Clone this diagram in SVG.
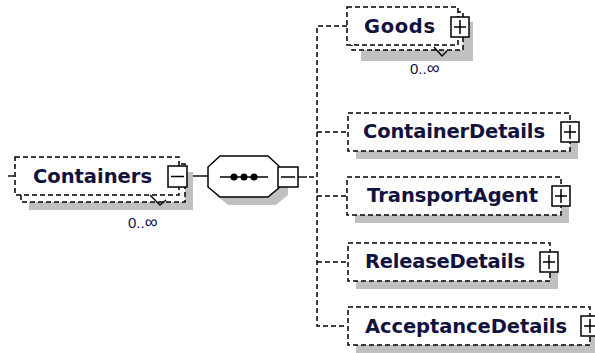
<svg xmlns="http://www.w3.org/2000/svg" width="595" height="353" viewBox="0 0 595 353">
<style>
.shadow{fill:#c0c0c0;stroke:none}
.el{fill:#fff;stroke:#000;stroke-width:1.5;stroke-dasharray:5 3}
.name{font-family:"DejaVu Sans","Liberation Sans",sans-serif;font-weight:bold;font-size:19.5px;fill:#12123e}
.occ{font-family:"Liberation Sans",Arial,sans-serif;font-size:15px;fill:#12123e}
.btn{fill:#fff;stroke:#000;stroke-width:1.5}
.sign{stroke:#000;stroke-width:1.5;fill:none}
.conn{fill:none;stroke:#000;stroke-width:1.5;stroke-dasharray:5 3}
.solid{fill:none;stroke:#000;stroke-width:1.4}
</style>
<rect width="595" height="353" fill="#fff"/>

<g id="connectors">
  <line class="solid" x1="8" y1="176" x2="15" y2="176"/>
  <line class="solid" x1="188" y1="176" x2="208" y2="176"/>
  <line class="solid" x1="298" y1="177" x2="307" y2="177"/>
  <line class="conn" x1="309" y1="177" x2="317" y2="177"/>
  <path class="conn" d="M347 26 H317 V326 H347"/>
  <line class="conn" x1="317" y1="132" x2="348" y2="132"/>
  <line class="conn" x1="317" y1="196" x2="347" y2="196"/>
  <line class="conn" x1="317" y1="262" x2="348" y2="262"/>
</g>

<g id="Containers">
  <rect class="shadow" x="29" y="172" width="164" height="38"/>
  <rect class="el" x="21" y="164" width="164" height="38"/>
  <rect class="el" x="15" y="157" width="164" height="38"/>
  <text class="name" x="33" y="183" textLength="119" lengthAdjust="spacing">Containers</text>
  <rect class="btn" x="168" y="166" width="19" height="21"/>
  <line class="sign" x1="171" y1="176.5" x2="184" y2="176.5"/>
  <polyline class="solid" points="150,195 160,205 166,200"/>
  <text class="occ" x="128" y="228"><tspan>0..</tspan><tspan font-size="18">∞</tspan></text>
</g>

<g id="sequence">
  <polygon class="shadow" points="228,164 276,164 288,175 288,195 276,205 228,205 216,195 216,175"/>
  <polygon fill="#fff" stroke="#000" stroke-width="1.5" points="220,156 268,156 280,167 280,187 268,197 220,197 208,187 208,167"/>
  <line class="solid" x1="220" y1="177" x2="268" y2="177"/>
  <circle cx="234" cy="177" r="3.5" fill="#000"/>
  <circle cx="244" cy="177" r="3.5" fill="#000"/>
  <circle cx="254" cy="177" r="3.5" fill="#000"/>
  <rect class="btn" x="278" y="167" width="20" height="20"/>
  <line class="sign" x1="281" y1="177" x2="295" y2="177"/>
</g>

<g id="Goods">
  <rect class="shadow" x="361" y="22" width="112" height="39"/>
  <rect class="el" x="352" y="12" width="111" height="38"/>
  <rect class="el" x="347" y="7" width="111" height="38"/>
  <text class="name" x="364" y="33" textLength="71" lengthAdjust="spacing">Goods</text>
  <rect class="btn" x="451" y="17" width="18" height="20"/>
  <path class="sign" d="M454 27 H466 M460 20 V34"/>
  <polyline class="solid" points="434,47 442,56 447,51"/>
  <text class="occ" x="410" y="74"><tspan>0..</tspan><tspan font-size="18">∞</tspan></text>
</g>

<g id="ContainerDetails">
  <rect class="shadow" x="356" y="121" width="222" height="38"/>
  <rect class="el" x="348" y="113" width="222" height="38"/>
  <text class="name" x="363" y="138" textLength="182" lengthAdjust="spacing">ContainerDetails</text>
  <rect class="btn" x="561" y="122" width="18" height="20"/>
  <path class="sign" d="M564 132 H576 M570 125 V139"/>
</g>

<g id="TransportAgent">
  <rect class="shadow" x="355" y="185" width="214" height="38"/>
  <rect class="el" x="347" y="177" width="214" height="38"/>
  <text class="name" x="367" y="202" textLength="171" lengthAdjust="spacing">TransportAgent</text>
  <rect class="btn" x="552" y="186" width="18" height="20"/>
  <path class="sign" d="M555 196 H567 M561 189 V203"/>
</g>

<g id="ReleaseDetails">
  <rect class="shadow" x="356" y="251" width="202" height="38"/>
  <rect class="el" x="348" y="243" width="202" height="38"/>
  <text class="name" x="365" y="268" textLength="160" lengthAdjust="spacing">ReleaseDetails</text>
  <rect class="btn" x="540" y="252" width="18" height="20"/>
  <path class="sign" d="M543 262 H555 M549 255 V269"/>
</g>

<g id="AcceptanceDetails">
  <rect class="shadow" x="356" y="315" width="242" height="38"/>
  <rect class="el" x="348" y="307" width="242" height="38"/>
  <text class="name" x="365" y="333" textLength="202" lengthAdjust="spacing">AcceptanceDetails</text>
  <rect class="btn" x="581" y="316" width="18" height="20"/>
  <path class="sign" d="M584 326 H596 M590 319 V333"/>
</g>
</svg>
